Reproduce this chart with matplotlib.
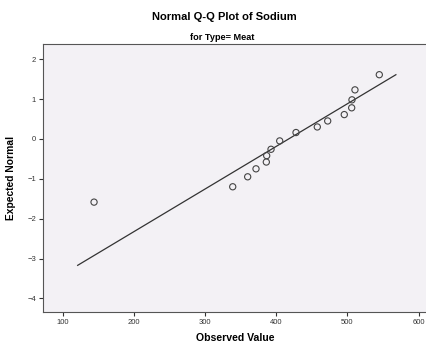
import numpy as np
import matplotlib
matplotlib.use("Agg")
import matplotlib.pyplot as plt

plt.rcParams['font.family'] = ['Liberation Sans', 'DejaVu Sans']

# Observed sodium values (Type = Meat) and their expected normal values
observed = [544.7, 510.5, 506.3, 505.9, 495.5, 472.2, 457.6, 427.7,
            404.8, 392.6, 386.5, 386.0, 371.5, 359.8, 338.8, 144.0]
expected = [1.61, 1.23, 0.98, 0.78, 0.61, 0.45, 0.30, 0.16,
            -0.05, -0.26, -0.42, -0.58, -0.75, -0.95, -1.20, -1.585]

# reference line ends
line_x = [121, 568]
line_y = [-3.17, 1.61]

x_ticks = [100, 200, 300, 400, 500, 600]
y_ticks = [-4, -3, -2, -1, 0, 1, 2]

fig = plt.figure(figsize=(4.27, 3.47), dpi=100)
ax = fig.add_axes([0.1007, 0.1009, 0.8993, 0.7723])
ax.set_facecolor('#f3f1f5')

ax.plot(line_x, line_y, color='#333333', lw=0.9)
ax.scatter(observed, expected, s=20, facecolors='none', edgecolors='#444444', linewidths=0.8, zorder=3)

ax.set_xlim(72.3, 611.7)
ax.set_ylim(-4.34, 2.38)
ax.set_xticks(x_ticks)
ax.set_yticks(y_ticks)
ax.tick_params(labelsize=5.5, colors='#333333', length=3, width=0.8, pad=2)

for s in ['left', 'bottom', 'top']:
    ax.spines[s].set_color('#555555')
    ax.spines[s].set_linewidth(0.8)
ax.spines['right'].set_visible(False)

ax.set_xlabel("Observed Value", fontsize=7.6, fontweight='bold', labelpad=5)
ax.set_ylabel("Expected Normal", fontsize=7.4, fontweight='bold', labelpad=8)

fig.text(0.525, 0.95, "Normal Q-Q Plot of Sodium", ha='center', va='center', fontsize=8, fontweight='bold')
fig.text(0.521, 0.893, "for Type= Meat", ha='center', va='center', fontsize=6.6, fontweight='bold')

fig.savefig("out.png", dpi=100)
